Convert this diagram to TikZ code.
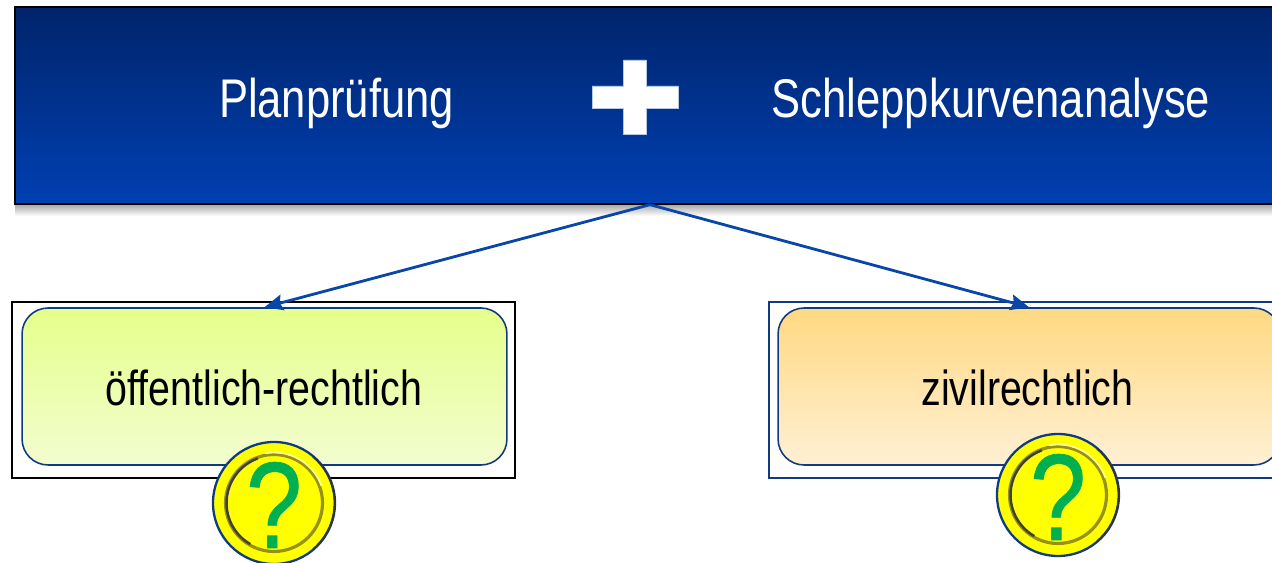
\documentclass[tikz,border=0pt]{standalone}
\usepackage{fontspec}
\setmainfont{Liberation Sans}
\newfontfamily\narrowfont[FakeStretch=0.8]{Liberation Sans}
\newfontfamily\qfont[FakeStretch=0.82,FakeBold=0.6]{Liberation Sans}
\usepackage{xcolor}
\usetikzlibrary{arrows.meta}
\definecolor{bannertop}{RGB}{0,36,107}
\definecolor{bannerbot}{RGB}{0,64,178}
\definecolor{linkblue}{RGB}{8,70,170}
\definecolor{edgeblue}{RGB}{16,58,130}
\definecolor{qgreen}{RGB}{0,176,80}
\definecolor{limetop}{RGB}{229,255,138}
\definecolor{limebot}{RGB}{243,253,208}
\definecolor{sandtop}{RGB}{255,217,130}
\definecolor{sandbot}{RGB}{255,240,212}
\definecolor{coinyellow}{RGB}{255,255,0}
\definecolor{coinring}{RGB}{150,145,20}
\tikzstyle{banner} = [draw=black, line width=0.8pt, top color=bannertop, bottom color=bannerbot, minimum width=25.4cm, minimum height=3.94cm, inner sep=0pt]
\tikzstyle{frame} = [draw, line width=0.9pt, minimum height=3.52cm, inner sep=0pt]
\tikzstyle{panel} = [draw=edgeblue, line width=0.9pt, rounded corners=0.52cm, minimum height=3.14cm, inner sep=0pt]
\tikzstyle{coin} = [circle, draw=edgeblue, line width=1.3pt, fill=coinyellow, minimum size=2.44cm, inner sep=0pt]
\tikzstyle{arrow} = [linkblue, line width=1.6pt, -{Stealth[length=10.5pt,width=9pt,inset=1.5pt]}]
\def\headtext{\narrowfont\fontsize{31}{36}\selectfont}
\def\boxtext{\narrowfont\fontsize{28}{32}\selectfont}
\begin{document}
\begin{tikzpicture}[x=0.02cm,y=-0.02cm]
      \useasboundingbox (0,0) rectangle (1272,563);
      \clip (0,0) rectangle (1272,563);
      \shade[top color=black!35, bottom color=white] (15,204) rectangle (1272,216);
      \node[banner] (head) at (650,105.5) {};
      \node[white] (plan) at (336.5,103) {\headtext Planprüfung};
      \node[white] (schlepp) at (991,103) {\headtext Schleppkurvenanalyse};
      %plus sign
      \fill[white, draw=white!70!linkblue, line width=0.3pt] (592,86)--(623.5,86)--(623.5,60)--(646,60)--(646,86)--(678,86)--(678,108)--(646,108)--(646,134)--(623.5,134)--(623.5,108)--(592,108)--cycle;
      \node[frame, draw=black, minimum width=10.06cm] (frameL) at (263.5,390) {};
      \node[frame, draw=edgeblue, minimum width=10.4cm] (frameR) at (1029,390) {};
      \node[panel, minimum width=9.7cm, top color=limetop, bottom color=limebot] (boxL) at (264.5,386.5) {};
      \node[panel, minimum width=10.04cm, top color=sandtop, bottom color=sandbot] (boxR) at (1029,386.5) {};
      \node (oeff) at (264,388) {\boxtext öffentlich-rechtlich};
      \node (zivil) at (1027.5,388) {\boxtext zivilrechtlich};
      \draw[arrow] (head.south)--(boxL.north);
      \draw[arrow] (head.south)--(boxR.north);
      \foreach \cn/\cx/\cy in {coinL/274/503, coinR/1058/495}{
        \node[coin] (\cn) at (\cx,\cy) {};
        \draw[coinring, line width=1.8pt] (\cn.center) circle[radius=0.97cm];
        \draw[black!75, line width=1.4pt] (\cn.center) ++(110:0.95cm) arc[start angle=110,end angle=240,radius=0.95cm];
        \draw[white!60!coinyellow, line width=1pt] (\cn.center) ++(20:1.01cm) arc[start angle=20,end angle=100,radius=1.01cm];
        \draw[black!80, line width=1pt] (\cn.center) ++(-50:1.21cm) arc[start angle=-50,end angle=50,radius=1.21cm];
        \node[qgreen, inner sep=0pt] (q\cn) at (\cx,\cy+2) {\qfont\fontsize{70}{70}\selectfont ?};
      }
      \end{tikzpicture}
\end{document}
